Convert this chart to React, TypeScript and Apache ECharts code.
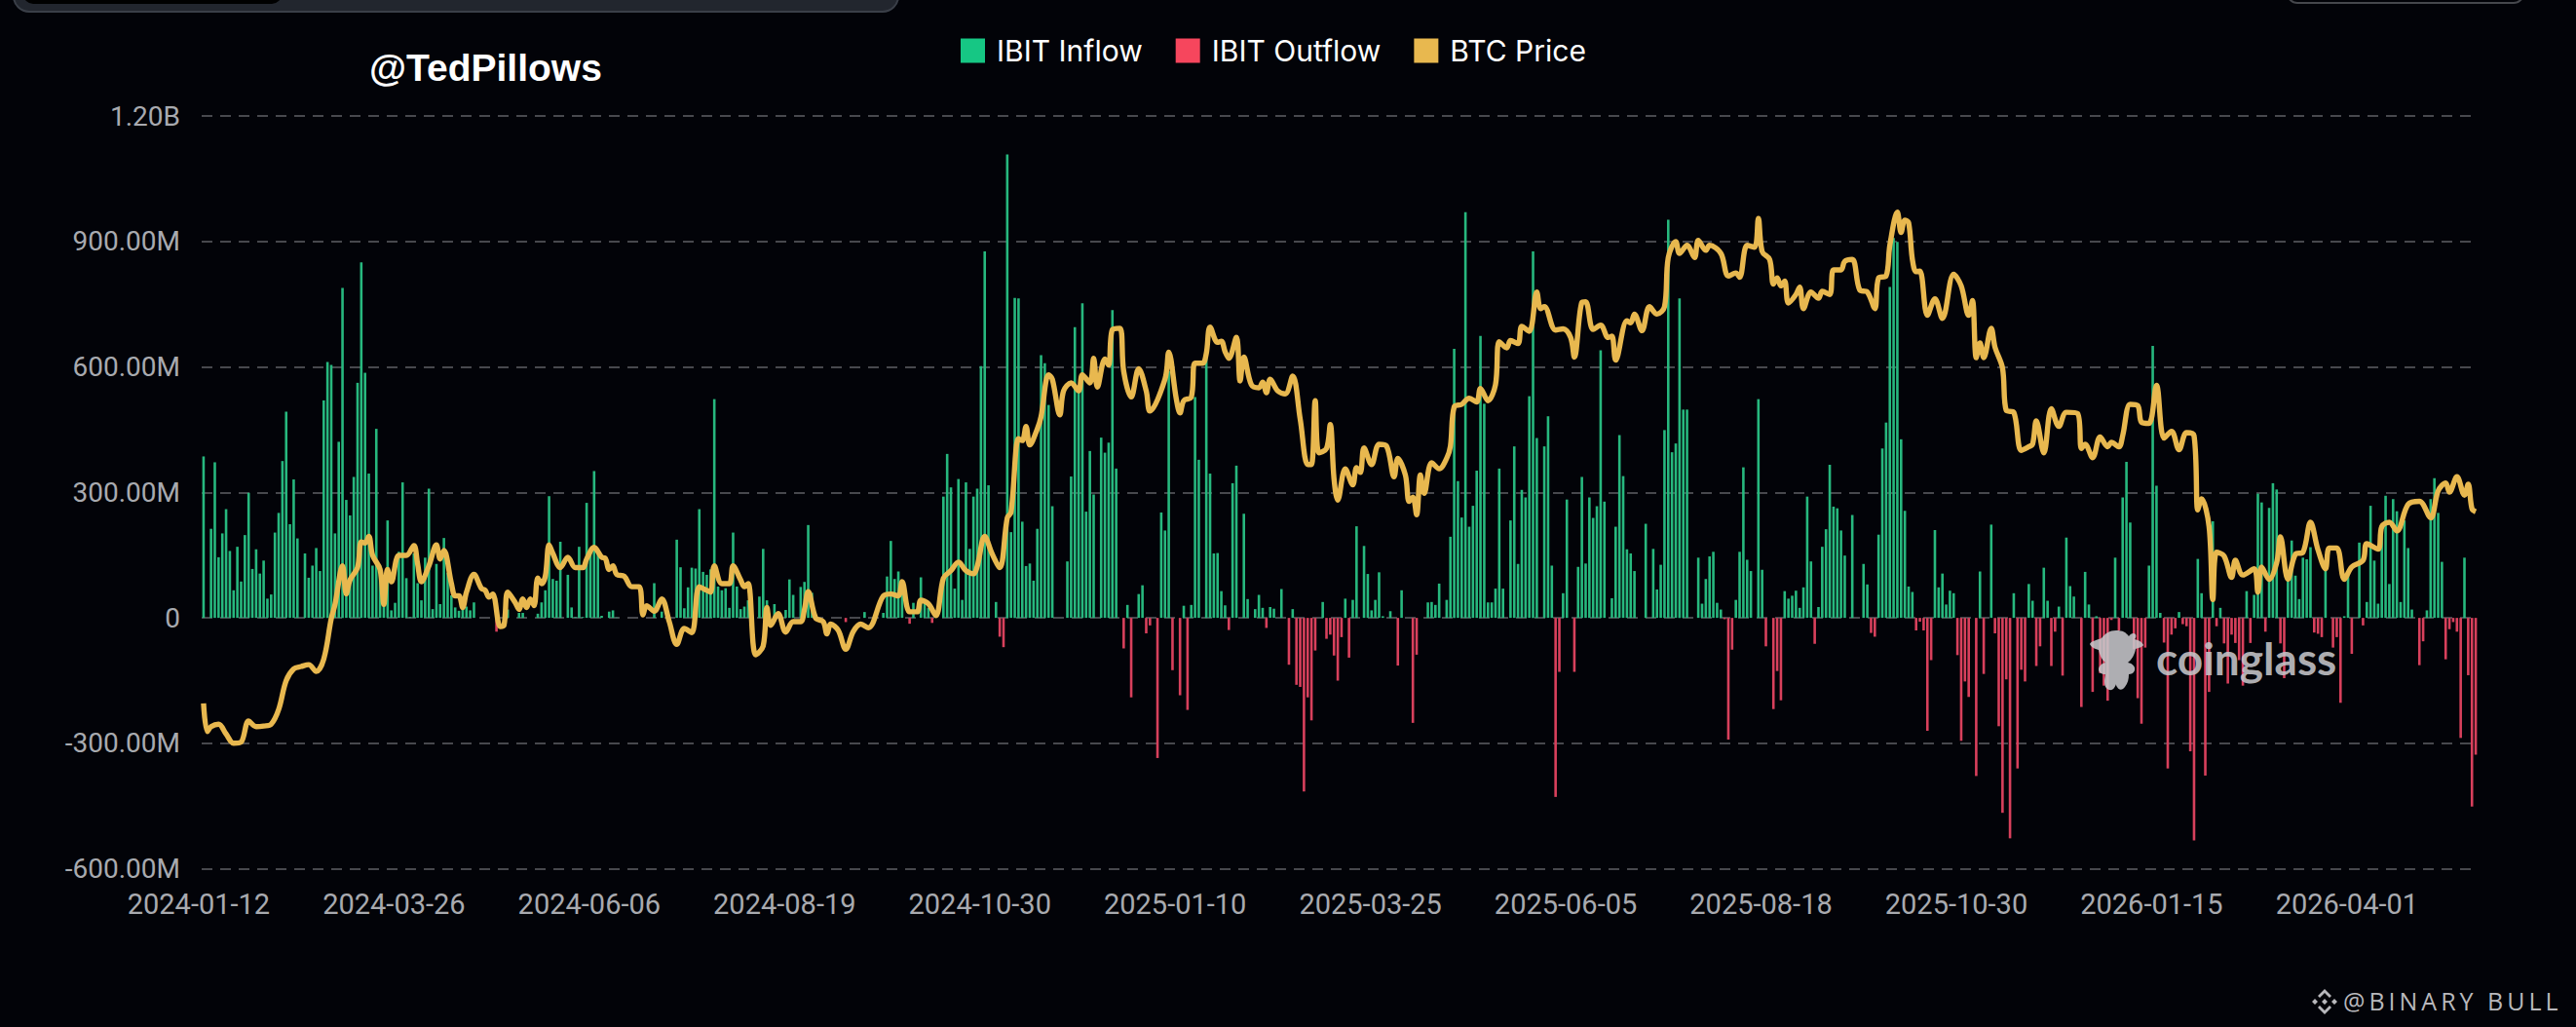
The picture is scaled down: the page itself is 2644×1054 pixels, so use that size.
import React, { useEffect, useRef } from "react";
import * as echarts from "echarts";

const seriesNames = ["IBIT Inflow", "IBIT Outflow", "BTC Price"];
const tickDates = ["2024-01-12","2024-03-26","2024-06-06","2024-08-19","2024-10-30","2025-01-10","2025-03-25","2025-06-05","2025-08-18","2025-10-30","2026-01-15","2026-04-01"];

// Net daily flow, USD millions (positive = inflow, negative = outflow)
const flows2024a = [
386,0,213,372,145,202,260,160,66,170,
87,198,299,117,164,106,137,46,56,204,
251,375,493,224,331,190,0,154,96,125,
167,112,520,612,605,202,421,789,282,245,
337,562,850,586,345,125,452,125,33,233,
18,36,158,324,95,2,154,83,42,144,
309,21,129,33,191,108,54,25,17,23,
27,18,37,0,0,0,0,0,-33,0,
0,20,0,0,12,12,0,0,0,10,
37,66,291,93,89,182,0,103,25,2,
170,2,275,162,351,158,5,0,15,18,
1,0,0,0,0,0,0,0,0,0,
83,0,15,0,0,0,187,121,23,73,
120,118,260,110,103,116,523,75,66,71,
24,204,75,21,27,42,0,0,51,165];
const flows2024b = [
42,0,33,0,0,19,92,55,0,74,
86,222,60,0,0,0,0,0,0,0,
0,-10,0,0,0,0,14,0,0,0,
0,12,99,184,93,111,67,0,-14,36,
0,97,38,24,-12,10,0,290,392,312,
70,332,43,324,165,290,309,602,876,317,
0,38,-45,-70,1108,205,765,764,230,124,
130,89,213,628,609,509,267,0,0,0,
135,338,695,543,752,254,399,295,0,431,
395,419,736,357,0,-73,31,-190,0,57,
78,-37,-18,0,-335,252,209,590,-125,0,
-185,29,-220,31,528,378,0,623,345,154,
155,64,30,-29,322,364,0,249,45,0,
21,55,24,-24,26,22,0,69,0,-112,
21,-160,-165,-415,-190,-245,-78,0,38,-50];
const flows2025a = [
-40,-90,-150,-46,46,-95,43,219,0,172,
105,18,43,109,4,0,16,0,-114,66,
0,0,-251,-88,0,0,37,38,31,82,
0,43,194,643,327,240,970,218,268,352,
674,512,37,37,70,357,70,0,233,410,
129,306,288,530,876,430,0,410,482,125,
-428,-129,59,283,0,-129,122,337,130,288,
239,267,640,278,0,47,218,437,339,164,
154,112,0,0,225,0,165,68,127,449,
952,396,417,764,498,498,0,0,144,34,
93,147,158,36,20,-3,-291,-76,43,158,
360,139,112,0,523,115,-68,0,-218,-127,
-197,64,46,53,65,24,73,290,135,-62,
26,170,212,366,266,262,209,149,0,246,
0,0,129,80,-36,-45,199,405,467,791];
const flows2025b = [
908,899,427,256,75,62,-30,-9,-30,-270,
-101,210,73,106,32,65,59,-89,-294,-152,
-189,0,-378,111,-134,0,223,-37,-259,-466,
-147,-527,59,-360,-124,-152,81,41,-115,-68,
120,41,-115,-33,27,-138,192,76,51,0,
-213,110,32,-177,4,-132,-162,-198,-5,144,
-30,288,373,228,-75,-192,-253,-71,125,650,
316,12,-59,-360,-40,-25,14,-15,-20,-319,
-532,141,59,-377,-177,231,-20,24,-61,-157,
-40,-60,-101,-162,64,-60,55,297,276,-33,
263,322,307,-61,-144,101,185,101,45,144,
140,169,-35,-38,-46,122,0,-71,-46,-203,
4,101,-86,0,180,-18,38,268,137,34,
210,292,81,284,255,38,233,167,20,0,
-113,-56,18,284,334,251,134,-99,-27,-10,
-33,-287,144,-137,-451,-327];

// BTC price read at turning points: trading-day position and USD thousands
const priceDays2024 = [0,1,2,4,6,8,10,12,14,16,18,20,22,24,26,28,30,32,34,35,37,38,39,41,42,43,44,45,47,48,49,50,52,54,56,57,58,60,62,63,64,66,67,68,69,70,72,74,75,76,77,79,80,81,83,84,85,86,87,88,89,90,91,92,93,95,97,99,101,102,104,106,107,108,109,110,112,114,116,117,118,120,122,124,126,128,130,132,134,135,136,138,140,141,143,144,145,147,149,150,151,153,155,157,159,160,161,163,165,166,167,169,171,173,175,177,181,183,185,186,188,190,191,193,195,197,199,201,203,205,206,208,210,212,214,215,217,218,219,220,222,223,225,226,228,229,231,233,234,236,237,238,240,241,242,244];
const priceK2024 = [45.7,41.1,41.9,42.3,40.7,39.2,39.4,42.8,41.9,42,42.3,44.7,49.4,51.3,51.7,52,50.9,52.9,59.5,61.8,68.1,63.5,65.8,67.8,72,71.8,72.9,69.8,67.5,61.8,67.5,65.5,69.8,69.8,71.4,68.4,65.5,68.1,71.5,69.2,70.6,65.2,63.2,63.2,61.3,63.8,66.7,64.4,64.1,63,63.5,58.2,58.4,63.8,62.1,61,62.7,61.3,62.7,61.6,66.1,65.2,66.4,71.5,70.1,67.8,69.5,67.8,67.8,69.2,71.1,69.5,69.3,67.5,68.1,66.7,66.4,64.7,64.7,60.1,61.6,60.7,62.7,59,55.3,57.9,57.2,64.7,64.1,63.8,68.1,65.2,65.2,68.1,65.8,64.7,65.2,53.6,55,61.3,58.4,60.3,57.3,59,59,61,63.9,59.6,59,57,58.6,57.6,54.5,57.4,58.6,58,63.2,63.5,63.2,65.5,60.6,60.6,62.5,61.9,60,66.1,67.3,68.7,67.3,66.8,68,72.9,70,67.8,75.9,76.8,88.8,88.5,90.8,87.8,90.4,92.4,99.2,98.5,92.7,96.6,97.9,96.6,99.2,97.9,101.9,97.2,101.8,100.8,106.6,106.8];
const priceDays2025 = [245,247,249,251,252,256,257,259,260,261,263,264,266,267,268,270,271,272,273,275,276,277,279,281,282,283,284,286,288,290,292,294,295,296,297,299,300,301,302,304,306,307,308,309,311,313,315,317,318,320,321,322,323,324,325,327,329,331,332,333,335,337,339,340,342,344,345,347,348,350,351,353,355,356,357,360,362,364,365,367,368,370,372,374,375,376,379,380,381,383,385,387,389,390,392,393,395,397,398,400,401,404,406,408,409,411,413,414,415,417,418,419,420,421,422,424,425,426,428,430,431,433,434,436,437,439,441,443,445,446,448,449,451,452,453,454,455,456];
const priceK2025 = [99.8,95.6,100.2,96.6,93.3,98.5,102.9,95.3,93,95,95.6,101.1,101.1,102.7,107,104.5,104.7,103,101.9,105.3,98.2,102.1,97.6,97.1,98,96.3,98.5,96.6,96.1,99,92,84.6,84.6,95,86.5,87.2,91.1,82.3,78.8,83.9,81.3,84.1,83.3,87.3,84.6,87.9,87.6,82.6,85.6,82.9,78.6,79.3,76.4,82.9,79.9,84.9,83.9,85.6,87.6,94,94.4,95.4,94.8,97,95,97.6,104.6,103.6,104.8,104.3,107.1,106.3,112.7,110,110.3,106.5,106.7,105.3,102.1,111,111.1,106.6,107.3,105.3,105.5,101.6,108,107.7,109.1,106.4,110.3,109.1,110.3,118.3,120.9,119,120.3,118.3,121.1,119.5,120.3,119,115.3,115.8,115.1,120.3,120,124.7,119.3,118,114,115,113.7,114.5,110.9,112.3,113.5,110,112.7,111.7,112.8,112.3,116.3,116.3,117.7,118,113,112.7,110,115,115.3,120.3,125.7,122.4,124.4,124,118,116];
const priceDays2026 = [457,459,461,463,466,468,470,471,472,473,474,476,477,479,480,482,484,486,487,488,490,492,494,496,499,500,501,503,505,507,508,510,511,513,515,516,518,520,522,524,526,528,530,531,532,534,535,536,538,540,541,543,546,547,548,550,552,553,555,557,559,561,563,565,566,568,570,572,575,576,579,580,582,584,587,590,593,595,597,598,600,602,603,604,605];
const priceK2026 = [116.1,108.9,111.6,108.4,115.6,113.7,108.9,111.3,102,104.4,102,106.8,103.7,100.3,93.4,93.1,86.9,87.5,87.9,91.7,86.5,93.7,90.8,93.1,92.9,87.2,87.9,85.7,89.1,87.5,88.2,87.5,89.3,94.4,94.2,91.5,91.3,97.5,88.9,90,87,89.8,89.3,77.2,79,74.5,62.6,70.3,69.7,66.2,69,66.6,67.6,63.8,67.9,65.9,68.6,72.8,65.9,70,70.3,75.2,70.7,67.6,71,71,65.9,67.9,69,71.7,70.8,74.5,75.2,73.8,78.1,78.6,75.9,80.3,81.6,80.1,82.6,79.6,81.4,77.4,76.9];

const flows = [...flows2024a, ...flows2024b, ...flows2025a, ...flows2025b];
const priceDays = [...priceDays2024, ...priceDays2025, ...priceDays2026];
const priceK = [...priceK2024, ...priceK2025, ...priceK2026];

const TICK_STEP = 52;
function buildCategories(count: number): string[] {
  const out: string[] = [];
  let d = new Date(tickDates[0] + "T00:00:00Z");
  for (let i = 0; i < count; i++) {
    if (i % TICK_STEP === 0 && tickDates[i / TICK_STEP]) d = new Date(tickDates[i / TICK_STEP] + "T00:00:00Z");
    out.push(d.toISOString().slice(0, 10));
    do { d = new Date(d.getTime() + 86400000); } while (d.getUTCDay() === 0 || d.getUTCDay() === 6);
  }
  return out;
}

const BEAR = "M12 8C16 3 20 0 27 0C34 0 37 2 40 6C42 3 45 2 47 4C48 6 47 8 46 9C50 10 54 12 55 15C54 17 50 18 47 19C46 25 43 30 39 33C44 34 47 37 46 41C45 44 42 45 40 45C40 50 39 54 36 58C34 61 30 62 28 58C27 57 27 56 27 55C26 58 24 62 20 61C16 60 15 56 15 52C15 49 16 47 16 45C12 45 9 43 9 40C9 37 12 34 16 33C12 30 10 25 9 20C5 19 1 17 0 14C1 11 7 10 12 8Z";
const DIAMOND = "M14 11L17 14L14 17L11 14ZM4 11L7 14L4 17L1 14ZM24 11L27 14L24 17L21 14ZM14 1L21 8L19 10L14 5L9 10L7 8ZM14 27L21 20L19 18L14 23L9 18L7 20Z";
echarts.graphic.registerShape("cgBear", echarts.graphic.extendPath(BEAR, {}));
echarts.graphic.registerShape("bnDiamond", echarts.graphic.extendPath(DIAMOND, {}));

export default function App() {
  const ref = useRef<HTMLDivElement>(null);
  useEffect(() => {
    document.body.style.margin = "0";
    document.body.style.background = "#020308";
    const chart = echarts.init(ref.current!, null, { renderer: "svg" });
    const categories = buildCategories(flows.length);
    const AXIS = "Roboto, sans-serif";
    chart.setOption({
      animation: false,
      backgroundColor: "#020308",
      legend: {
        left: 986, top: 37, padding: 0, itemWidth: 25, itemHeight: 25, itemGap: 34, icon: "rect",
        data: [
          { name: seriesNames[0], itemStyle: { color: "#16c784" } },
          { name: seriesNames[1], itemStyle: { color: "#f6465d" } },
          { name: seriesNames[2], itemStyle: { color: "#e8b84f" } },
        ],
        textStyle: { color: "#ffffff", fontFamily: "Inter, sans-serif", fontSize: 30, padding: [0, 0, 0, 7] },
      },
      grid: { left: 207, top: 119, width: 2336, height: 772.7 },
      xAxis: {
        type: "category", data: categories, boundaryGap: true,
        axisLine: { show: false }, axisTick: { show: false }, splitLine: { show: false },
        axisLabel: { interval: TICK_STEP - 1, hideOverlap: false, margin: 22, padding: [0, 10, 0, 0], color: "#a8aaaf", fontFamily: AXIS, fontSize: 29 },
      },
      yAxis: [
        {
          type: "value", min: -600, max: 1200, interval: 300,
          axisLine: { show: false }, axisTick: { show: false },
          splitLine: { show: true, lineStyle: { color: "#47484d", width: 2, type: [11, 8] } },
          axisLabel: {
            margin: 22, color: "#a8aaaf", fontFamily: AXIS, fontSize: 28,
            formatter: (v: number) => v === 0 ? "0" : Math.abs(v) >= 1000 ? (v / 1000).toFixed(2) + "B" : v.toFixed(2) + "M",
          },
        },
        { type: "value", min: 18.73, max: 141.38, show: false, splitLine: { show: false } },
      ],
      series: [
        { name: seriesNames[0], type: "bar", barWidth: 2.6, barGap: "-100%", itemStyle: { color: "#27b87e" }, data: flows.map((v) => (v > 0 ? v : null)) },
        { name: seriesNames[1], type: "bar", barWidth: 2.6, barGap: "-100%", itemStyle: { color: "#d8405c" }, data: flows.map((v) => (v < 0 ? v : null)) },
        {
          name: seriesNames[2], type: "line", yAxisIndex: 1, showSymbol: false, smooth: 0.35, z: 5,
          itemStyle: { color: "#e8b84f" }, lineStyle: { color: "#e8b84f", width: 5.4 },
          data: priceDays.map((d, k) => [d, priceK[k]]),
        },
      ],
      graphic: [
        { type: "rect", z: 10, shape: { x: 14, y: -30, width: 908, height: 42, r: 16 }, style: { fill: "#22262e", stroke: "#3a3f48", lineWidth: 2 } },
        { type: "rect", z: 11, shape: { x: 24, y: -30, width: 265, height: 34, r: 10 }, style: { fill: "#000000" } },
        { type: "rect", z: 10, shape: { x: 2348, y: -30, width: 242, height: 33, r: 10 }, style: { fill: "#020308", stroke: "#45474c", lineWidth: 2 } },
        { type: "text", z: 10, x: 379, y: 50, style: { text: "@TedPillows", fill: "#ffffff", font: "bold 39px 'Liberation Sans', sans-serif", textAlign: "left", textVerticalAlign: "top" } },
        { type: "cgBear", z: 20, x: 2145, y: 647, scaleX: 1, scaleY: 1, style: { fill: "#c6c6ca", opacity: 0.88 } },
        { type: "text", z: 20, x: 2213, y: 652, style: { text: "coinglass", fill: "#c6c6ca", opacity: 0.88, font: "bold 46px Lato, sans-serif", textAlign: "left", textVerticalAlign: "top" } },
        { type: "bnDiamond", z: 20, x: 2372, y: 1014, style: { fill: "#b8b8bc" } },
        { type: "text", z: 20, x: 2405, y: 1014, style: { text: "@BINARY BULL", fill: "#b8b8bc", font: "25px 'Open Sans', sans-serif", textAlign: "left", textVerticalAlign: "top" } },
      ],
    });
    ref.current!.querySelectorAll("text").forEach((t) => {
      if ((t.textContent || "").startsWith("@BINARY")) t.setAttribute("letter-spacing", "4");
    });
    return () => chart.dispose();
  }, []);
  return <div ref={ref} style={{ position: "absolute", left: 0, top: 0, width: 2644, height: 1054 }} />;
}
